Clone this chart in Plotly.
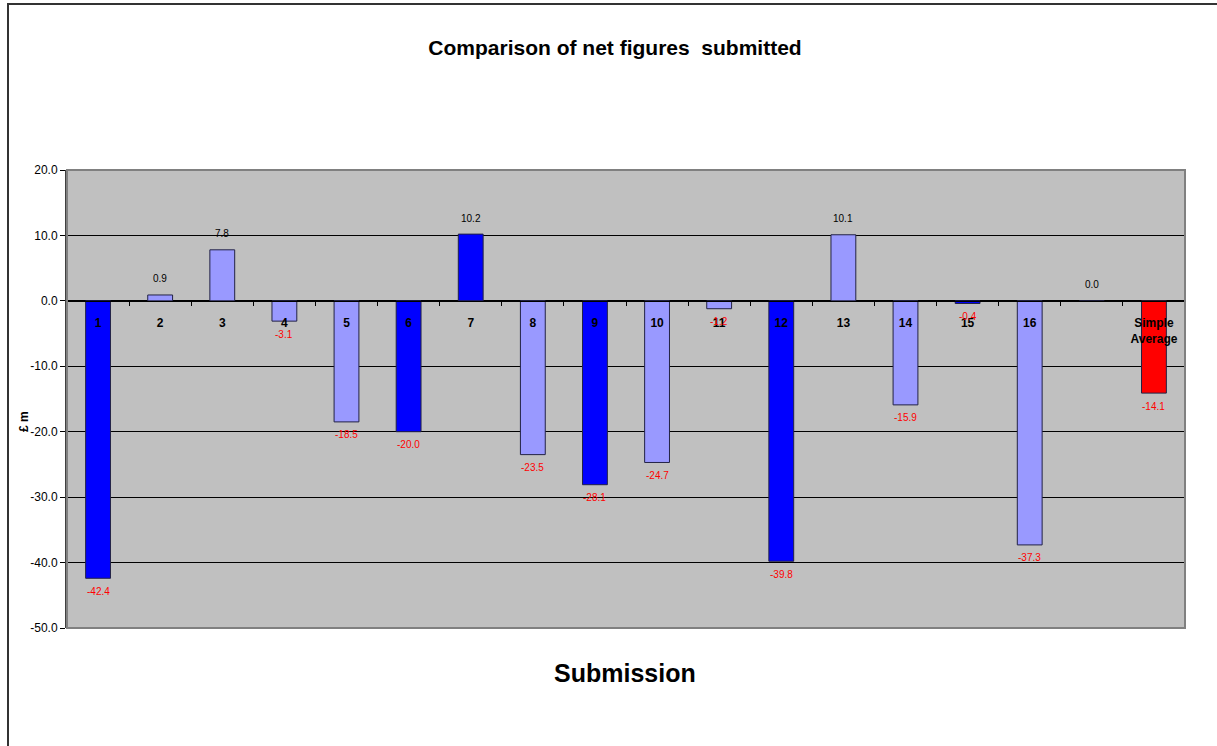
import plotly.graph_objects as go

categories = [str(i) for i in range(1, 17)] + [" ", "Simple Average"]
tick_text = [f"<b>{i}</b>" for i in range(1, 17)] + [" ", "<b>Simple<br>Average</b>"]
values = [-42.4, 0.9, 7.8, -3.1, -18.5, -20.0, 10.2, -23.5, -28.1, -24.7,
          -1.2, -39.8, 10.1, -15.9, -0.4, -37.3, 0.0, -14.1]
dark_ids = ["1", "6", "7", "9", "12", "15"]
y_ticks = [-50, -40, -30, -20, -10, 0, 10, 20]

DARK = "#0000FF"
LIGHT = "#9999FF"
RED = "#FF0000"

colors = []
for c in categories:
    if c == "Simple Average":
        colors.append(RED)
    elif c in dark_ids:
        colors.append(DARK)
    else:
        colors.append(LIGHT)

FONT = "Liberation Sans Narrow, Arial Narrow, Liberation Sans, Arial, sans-serif"

fig = go.Figure()
fig.add_trace(go.Bar(
    x=categories, y=values,
    width=0.4,
    marker=dict(color=colors, line=dict(color="#222244", width=1)),
    hoverinfo="x+y",
))

L, R, T, B = 67, 32, 170, 118
W, H = 1217, 746
pw, ph = W - L - R, H - T - B

def px_to_paper_x(px):
    return (px - L) / pw

def py_to_paper_y(py):
    return (H - B - py) / ph

annotations = []
for idx, v in enumerate(values):
    # idx is the category index on the category axis
    annotations.append(dict(
        x=idx, y=v, xref="x", yref="y", text=f"{v:.1f}", showarrow=False,
        xanchor="center", yanchor="middle",
        yshift=16 if v >= 0 else -13,
        font=dict(size=10, family=FONT, color="#000000" if v >= 0 else "#FF0000"),
    ))

annotations += [
    dict(text="<b>Submission</b>", xref="paper", yref="paper",
         x=px_to_paper_x(625), y=py_to_paper_y(673),
         xanchor="center", yanchor="middle", showarrow=False,
         font=dict(size=25, family=FONT, color="black")),
    dict(text="<b>£ m</b>", xref="paper", yref="paper",
         x=px_to_paper_x(24), y=py_to_paper_y(422),
         xanchor="center", yanchor="middle", showarrow=False,
         textangle=-90,
         font=dict(size=12, family=FONT, color="black")),
]

fig.update_layout(
    width=W, height=H,
    margin=dict(l=L, r=R, t=T, b=B, autoexpand=False),
    paper_bgcolor="white",
    plot_bgcolor="#C0C0C0",
    showlegend=False,
    bargap=0.6,
    font=dict(family=FONT, color="black"),
    title=dict(
        text="<b>Comparison of net figures &nbsp;submitted</b>",
        font=dict(size=21, family=FONT, color="black"),
        x=px_to_paper_x(615), xref="paper", xanchor="center",
        y=1 - 48 / H, yref="container", yanchor="middle",
    ),
    xaxis=dict(
        type="category",
        categoryorder="array", categoryarray=categories,
        tickvals=categories, ticktext=tick_text,
        anchor="free", position=50 / 70,
        showline=True, linecolor="black", linewidth=1,
        ticks="outside", ticklen=4, tickcolor="black", tickson="boundaries",
        tickfont=dict(size=12, family=FONT, color="black"),
        ticklabelstandoff=11,
        showgrid=False, automargin=False,
        range=[-0.5, 17.5],
    ),
    yaxis=dict(
        range=[-50, 20],
        tickvals=y_ticks,
        ticktext=[f"{v:.1f}" for v in y_ticks],
        showgrid=True, gridcolor="black", gridwidth=1,
        zeroline=True, zerolinecolor="black", zerolinewidth=1,
        showline=True, linecolor="#404040", linewidth=2,
        ticks="outside", ticklen=5, tickcolor="black",
        tickfont=dict(size=12, family=FONT, color="black"),
        automargin=False,
    ),
    annotations=annotations,
    shapes=[
        dict(type="rect", xref="paper", yref="paper",
             x0=0, x1=1, y0=0, y1=1,
             line=dict(color="#808080", width=2), layer="above"),
        dict(type="rect", xref="paper", yref="paper",
             x0=px_to_paper_x(8), x1=px_to_paper_x(1240),
             y0=py_to_paper_y(770), y1=py_to_paper_y(4),
             line=dict(color="#333333", width=2)),
    ],
)

fig.write_html(
    "out.html",
    config={"displayModeBar": False},
    post_script="document.body.style.margin='0';document.body.style.overflow='hidden';",
)
